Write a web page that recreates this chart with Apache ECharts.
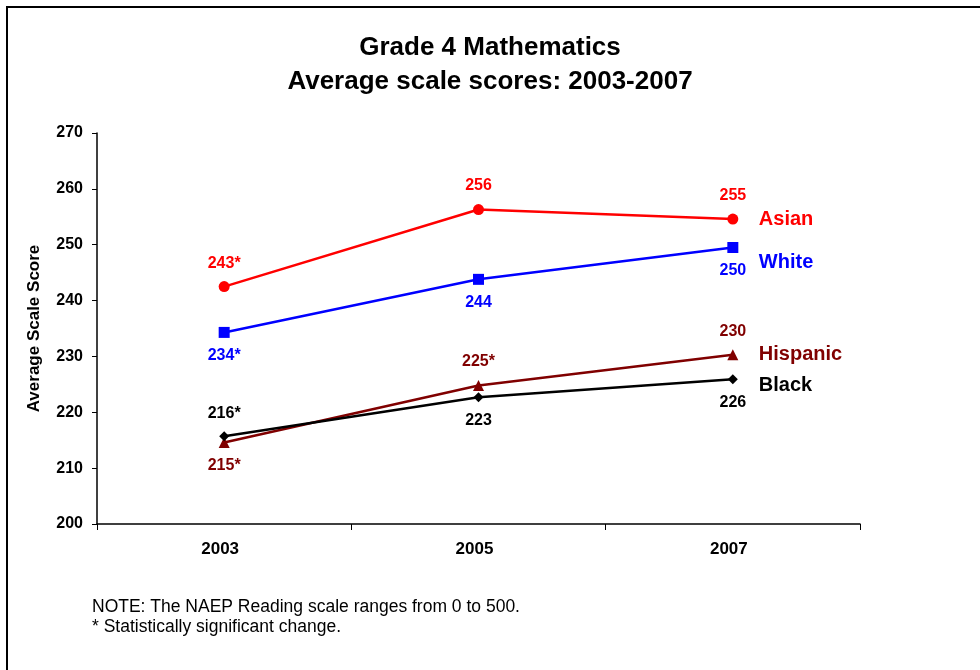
<!DOCTYPE html>
<html><head><meta charset="utf-8">
<script src="https://cdn.jsdelivr.net/npm/echarts@6/dist/echarts.min.js"></script>
<style>html,body{margin:0;padding:0;background:#fff}#c{width:980px;height:670px}</style>
</head><body><div id="c"></div>
<script>
var years = ['2003', '2005', '2007'];
var yTicks = [200, 210, 220, 230, 240, 250, 260, 270];
var asian = [242.5, 256.3, 254.6];
var white = [234.3, 243.8, 249.5];
var hispanic = [214.6, 224.8, 230.3];
var black = [215.7, 222.7, 225.9];
var asianLabels = ['243*', '256', '255'];
var whiteLabels = ['234*', '244', '250'];
var hispanicLabels = ['215*', '225*', '230'];
var blackLabels = ['216*', '223', '226'];
var seriesNames = ['Asian', 'White', 'Hispanic', 'Black'];

var FONT = 'Liberation Sans, Arial, sans-serif';
function mk(name, data, labels, positions, color, symbol, size, endOffset) {
  return {
    name: name, type: 'line', data: data.map(function (v, i) {
      return { value: v, label: { position: positions[i], formatter: labels[i] } };
    }),
    symbol: symbol, symbolSize: size,
    lineStyle: { color: color, width: 2.5 },
    itemStyle: { color: color },
    label: { show: true, color: color, fontFamily: FONT, fontWeight: 'bold', fontSize: 16, distance: 10 },
    endLabel: { show: true, formatter: name, color: color, fontFamily: FONT, fontWeight: 'bold', fontSize: 20, offset: endOffset, distance: 26 },
    animation: false
  };
}
var chart = echarts.init(document.getElementById('c'));
chart.setOption({
  animation: false,
  title: {
    text: 'Grade 4 Mathematics\nAverage scale scores: 2003-2007',
    left: 'center', top: 26,
    textStyle: { fontFamily: FONT, fontWeight: 'bold', fontSize: 26, lineHeight: 34, color: '#000' }
  },
  graphic: [
    { type: 'rect', shape: { x: 7, y: 7, width: 1000, height: 700 }, style: { fill: 'none', stroke: '#000', lineWidth: 2 }, silent: true },
    { type: 'text', left: 92, top: 597, style: { text: 'NOTE: The NAEP Reading scale ranges from 0 to 500.\n* Statistically significant change.', fontFamily: FONT, fontSize: 17.5, lineHeight: 20, fill: '#000' } }
  ],
  grid: { left: 97, right: 120, top: 133, bottom: 146, containLabel: false },
  xAxis: {
    type: 'category', data: years, boundaryGap: true,
    axisLine: { lineStyle: { color: '#000', width: 1.5 } },
    axisTick: { show: true, length: 6, lineStyle: { color: '#000' } },
    axisLabel: { color: '#000', fontFamily: FONT, fontWeight: 'bold', fontSize: 17, margin: 17, padding: [0, 8, 0, 0] }
  },
  yAxis: {
    type: 'value', min: yTicks[0], max: yTicks[yTicks.length - 1], interval: 10,
    name: 'Average Scale Score', nameLocation: 'middle', nameGap: 54,
    nameTextStyle: { color: '#000', fontFamily: FONT, fontWeight: 'bold', fontSize: 17 },
    axisLine: { show: true, lineStyle: { color: '#000', width: 1.5 } },
    axisTick: { show: true, length: 5, lineStyle: { color: '#000' } },
    splitLine: { show: false },
    axisLabel: { color: '#000', fontFamily: FONT, fontWeight: 'bold', fontSize: 16, margin: 14 }
  },
  series: [
    mk(seriesNames[0], asian, asianLabels, ['top', 'top', 'top'], '#FF0000', 'circle', 11, [0, 0]),
    mk(seriesNames[1], white, whiteLabels, ['bottom', 'bottom', 'bottom'], '#0000FF', 'rect', 11, [0, 15]),
    mk(seriesNames[2], hispanic, hispanicLabels, ['bottom', 'top', 'top'], '#800000', 'triangle', 11, [0, 0]),
    mk(seriesNames[3], black, blackLabels, ['top', 'bottom', 'bottom'], '#000000', 'diamond', 10, [0, 6])
  ]
});
</script></body></html>
